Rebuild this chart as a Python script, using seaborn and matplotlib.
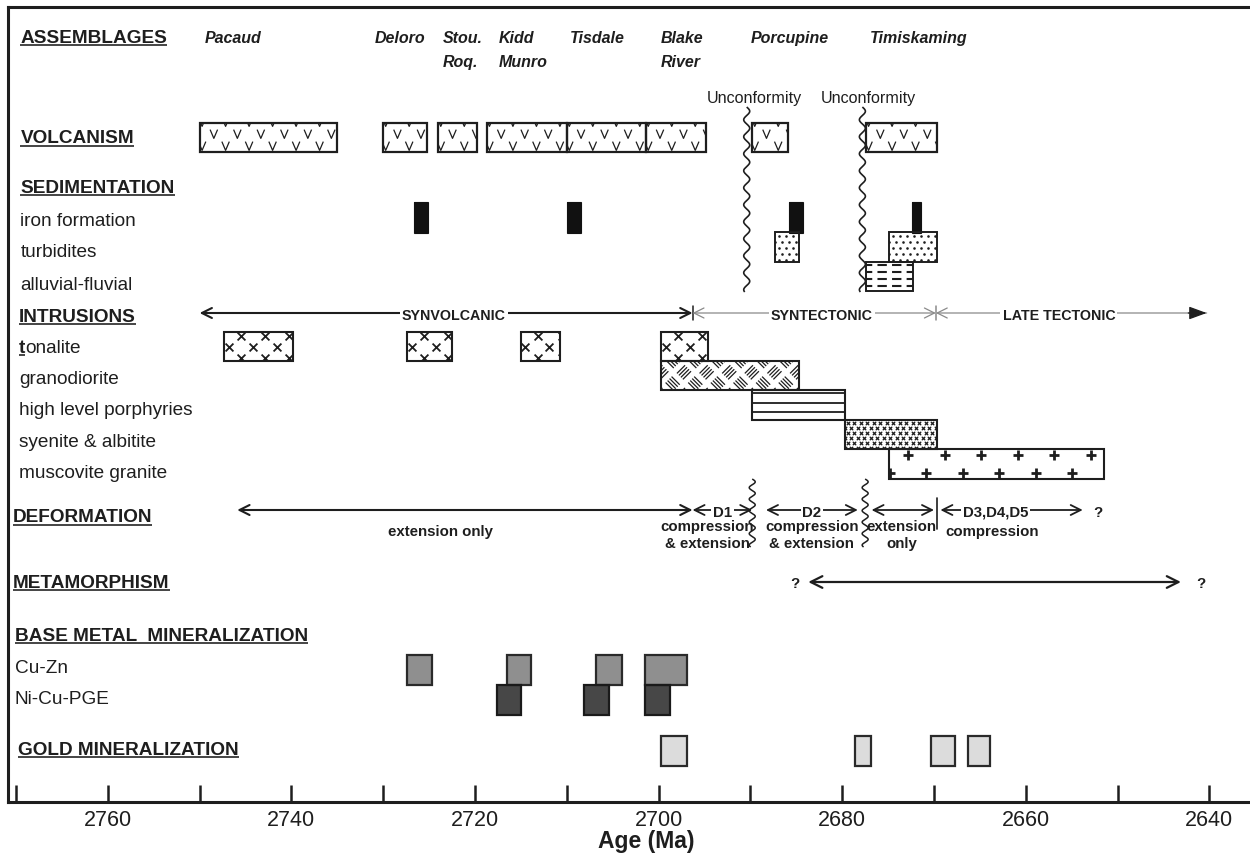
import numpy as np
import matplotlib
matplotlib.use("Agg")
import matplotlib.pyplot as plt
import matplotlib.transforms as mtransforms
from matplotlib.path import Path
from matplotlib.collections import LineCollection
import seaborn as sns

# ---------------------------------------------------------------- data
assemblage_line1 = ["Pacaud", "Deloro", "Stou.", "Kidd", "Tisdale", "Blake", "Porcupine", "Timiskaming"]
assemblage_line2 = ["", "", "Roq.", "Munro", "", "River", "", ""]
assemblage_label_age = [2749.4, 2730.9, 2723.5, 2717.4, 2709.7, 2699.8, 2690.0, 2677.0]

volc_start = [2750.0, 2730.0, 2724.0, 2718.7, 2710.0, 2701.4, 2689.8, 2677.4]
volc_end = [2735.0, 2725.2, 2719.8, 2710.0, 2701.4, 2694.8, 2685.9, 2669.7]

unconformity_age = [2690.4, 2677.8]
unconformity_label_age = [2689.6, 2677.2]
unconformity_text = ["Unconformity", "Unconformity"]

iron_start = [2726.6, 2710.0, 2685.8, 2672.4]
iron_end = [2725.1, 2708.5, 2684.3, 2671.4]
turb_start = [2687.3, 2674.9]
turb_end = [2684.7, 2669.7]
alluv_start = [2677.4]
alluv_end = [2672.3]

tonalite_start = [2747.3, 2727.4, 2715.0, 2699.7]
tonalite_end = [2739.8, 2722.5, 2710.7, 2694.6]
granodiorite_start = [2699.7]
granodiorite_end = [2684.7]
porphyry_start = [2689.8]
porphyry_end = [2679.7]
syenite_start = [2679.7]
syenite_end = [2669.7]
muscovite_start = [2674.9]
muscovite_end = [2651.5]

intrusion_periods = ["SYNVOLCANIC", "SYNTECTONIC", "LATE TECTONIC"]
intrusion_bounds = [2750.0, 2696.3, 2669.8, 2640.3]
intrusion_label_age = [2722.3, 2682.2, 2656.4]

deform_ext_early = [2745.9, 2696.3]
deform_d1 = [2696.3, 2689.8]
deform_d2 = [2688.3, 2678.3]
deform_ext_late = [2676.8, 2670.0]
deform_d345 = [2669.3, 2653.8]
deform_boundary = 2669.7
deform_wavy_age = [2689.8, 2677.5]
deform_texts = {
    "ext_early": ("extension only", 2723.8),
    "d1": ("D1", 2693.0),
    "d1_txt": ("compression", "& extension", 2694.7),
    "d2": ("D2", 2683.3),
    "d2_txt": ("compression", "& extension", 2683.3),
    "ext_late": ("extension", "only", 2673.5),
    "d345": ("D3,D4,D5", 2663.3),
    "d345_txt": ("compression", 2663.7),
    "q": ("?", 2652.2),
}

metamorphism = [2683.7, 2643.1]
metamorphism_q_age = [2685.2, 2640.9]

cuzn_start = [2727.4, 2716.5, 2706.8, 2701.5]
cuzn_end = [2724.7, 2713.9, 2704.0, 2696.9]
nicu_start = [2717.6, 2708.1, 2701.5]
nicu_end = [2715.0, 2705.4, 2698.8]
gold_start = [2699.7, 2678.6, 2670.3, 2666.3]
gold_end = [2696.9, 2676.9, 2667.7, 2663.9]

tick_values = list(range(2640, 2771, 10))
tick_labels = [str(t) if t % 20 == 0 else "" for t in tick_values]

row_labels = [
    ("ASSEMBLAGES", True), ("VOLCANISM", True), ("SEDIMENTATION", True),
    ("iron formation", False), ("turbidites", False), ("alluvial-fluvial", False),
    ("INTRUSIONS", True), ("tonalite", False), ("granodiorite", False),
    ("high level porphyries", False), ("syenite & albitite", False), ("muscovite granite", False),
    ("DEFORMATION", True), ("METAMORPHISM", True), ("BASE METAL  MINERALIZATION", True),
    ("Cu-Zn", False), ("Ni-Cu-PGE", False), ("GOLD MINERALIZATION", True),
]

# ---------------------------------------------------------------- layout / style
W, H = 1250, 854
AX_L, AX_R, AX_T, AX_B = 8, 1253, 8, 803
XLIM = (2770.87, 2635.25)
INK = "#1e1e1e"

# label x (px) and baseline (px row)
ROW_LABEL_POS = [
    (20.5, 42.7), (20.5, 143.3), (20.5, 193.0), (20.5, 225.7), (20.5, 256.7), (20.5, 290.0),
    (19.0, 321.7), (19.0, 352.7), (19.0, 384.0), (19.0, 415.0), (19.0, 446.7), (19.0, 478.3),
    (13.0, 522.3), (13.0, 587.7), (15.0, 640.7), (15.0, 672.7), (15.0, 704.0), (18.0, 755.0),
]
ROW_SPAN = dict(volcanism=(124, 153), iron=(203, 234), turb=(233, 263), alluv=(263, 292),
                tonalite=(333, 362), granodiorite=(362, 391), porphyry=(391, 421),
                syenite=(421, 450), muscovite=(450, 480),
                cuzn=(656, 686), nicu=(686, 716), gold=(737, 767))
Y_ASSEMB = (42.7, 66.7)
Y_UNCONF_TXT = 103.5
UNCONF_SPAN = (108, 293)
Y_INTR = 314
Y_INTR_TXT = 320.5
Y_DEF = 511
Y_DEF_LABEL = 516.7
Y_DEF_TXT = (531.0, 548.0)
Y_DEF_TXT_SINGLE = 536.0
DEF_WAVY_SPAN = (480, 548)
Y_META = 583

sns.set_theme(style="white")
plt.rcParams["font.family"] = ["Liberation Sans", "DejaVu Sans"]

fig = plt.figure(figsize=(W / 100, H / 100), dpi=100)
fig.patch.set_facecolor("white")
ax = fig.add_axes([AX_L / W, 1 - AX_B / H, (AX_R - AX_L) / W, (AX_B - AX_T) / H])
ax.set_facecolor("white")
ax.set_xlim(*XLIM)
ax.set_ylim(AX_B, AX_T)
ax.grid(False)

for side in ["left", "top", "bottom", "right"]:
    ax.spines[side].set_color(INK)
    ax.spines[side].set_linewidth(2.2)
ax.set_xticks(tick_values)
ax.set_xticklabels(tick_labels)
ax.tick_params(axis="x", bottom=True, direction="in", length=12.2, width=1.8,
               pad=5, labelsize=15.5, colors=INK)
ax.set_yticks([])
ax.set_xlabel("Age (Ma)", fontsize=16.5, fontweight="bold", color=INK)
ax.xaxis.set_label_coords((646 - AX_L) / (AX_R - AX_L), -(842 - AX_B) / (AX_B - AX_T))
ax.xaxis.label.set_va("center")

PXMA = abs(ax.transData.transform((2690, 0))[0] - ax.transData.transform((2700, 0))[0]) / 10.0
blend = mtransforms.blended_transform_factory(ax.transAxes, ax.transData)


def xfrac(px):
    return (px - AX_L) / (AX_R - AX_L)


# ---------------------------------------------------------------- helpers
def boxes(starts, ends, key, fc="white", ec=INK, lw=1.5):
    top, bot = ROW_SPAN[key]
    s = np.asarray(starts, float)
    e = np.asarray(ends, float)
    yc = np.full(len(s), (top + bot) / 2)
    cont = ax.barh(yc, e - s, left=s, height=bot - top, color=fc, edgecolor="none",
                   linewidth=0, zorder=2)
    ax.barh(yc, e - s, left=s, height=bot - top, fill=False, edgecolor=ec,
            linewidth=lw, zorder=5)
    return list(cont.patches)


def geom(bar):
    x0 = bar.get_x()
    w = bar.get_width()
    return max(x0, x0 + w), abs(w) * PXMA, bar.get_y(), bar.get_height()


def lattice(bar, dx, dy, oy, ox_even, ox_odd):
    left_age, wpx, top, h = geom(bar)
    xs, ys = [], []
    for j in range(-1, int(np.ceil(h / dy)) + 2):
        yy = top + oy + j * dy
        if yy < top - dy or yy > top + h + dy:
            continue
        ox = ox_even if j % 2 == 0 else ox_odd
        for i in range(-1, int(np.ceil(wpx / dx)) + 2):
            xp = ox + i * dx
            if -dx <= xp <= wpx + dx:
                xs.append(left_age - xp / PXMA)
                ys.append(yy)
    return np.array(xs), np.array(ys)


def clip_last(bar):
    ax.collections[-1].set_clip_path(bar)


def sns_markers(bar, xs, ys, marker, s, lw):
    sns.scatterplot(x=xs, y=ys, marker=marker, s=s, color=INK, linewidth=lw, ax=ax,
                    zorder=3, legend=False)
    clip_last(bar)


def darrow(a0, a1, y, color=INK, lw=1.3, style="<->", hl=0.6, hw=0.3, ms=12, z=6):
    ax.annotate("", xy=(a1, y), xytext=(a0, y),
                arrowprops=dict(arrowstyle=f"{style},head_length={hl},head_width={hw}",
                                color=color, lw=lw, shrinkA=0, shrinkB=0,
                                mutation_scale=ms), zorder=z)


def wavy(age, y0, y1, amp=3.0, lam=17.0, lw=1.2):
    yy = np.linspace(y0, y1, 300)
    xx = age - amp * np.sin(2 * np.pi * (yy - y0) / lam) / PXMA
    ax.plot(xx, yy, color=INK, lw=lw, zorder=6, solid_capstyle="butt")


# ---------------------------------------------------------------- row labels
underlined = []
tonalite_t = None
for (txt, bold), (px, yb) in zip(row_labels, ROW_LABEL_POS):
    if txt == "tonalite":
        tonalite_t = ax.text(xfrac(px), yb, "t", transform=blend, fontsize=13.7,
                             fontweight="bold", color=INK, va="baseline", ha="left")
        underlined.append((tonalite_t, yb))
        continue
    t = ax.text(xfrac(px), yb, txt, transform=blend, fontsize=13.7,
                fontweight="bold" if bold else "normal", color=INK, va="baseline", ha="left")
    if bold:
        underlined.append((t, yb))

# assemblage names
for a, l1, l2 in zip(assemblage_label_age, assemblage_line1, assemblage_line2):
    ax.text(a, Y_ASSEMB[0], l1, fontsize=11.5, fontweight="bold", fontstyle="italic",
            color=INK, ha="left", va="baseline")
    if l2:
        ax.text(a, Y_ASSEMB[1], l2, fontsize=11.5, fontweight="bold", fontstyle="italic",
                color=INK, ha="left", va="baseline")

# ---------------------------------------------------------------- volcanism
V_PATH = Path([(-0.85, 1), (0, -1), (0.85, 1)], [Path.MOVETO, Path.LINETO, Path.LINETO])
for bar in boxes(volc_start, volc_end, "volcanism", lw=1.6):
    xs, ys = lattice(bar, 23.5, 12.0, -1.0, 2.5, 14.25)
    coll = ax.scatter(xs, ys, marker=V_PATH, s=40, facecolors="none", edgecolors=INK,
                      linewidths=0.9, zorder=3)
    coll.set_clip_path(bar)

# unconformities
for a, la, txt in zip(unconformity_age, unconformity_label_age, unconformity_text):
    wavy(a, UNCONF_SPAN[0], UNCONF_SPAN[1], amp=3.0, lam=17.0)
    ax.text(la, Y_UNCONF_TXT, txt, fontsize=11.6, color=INK, ha="center", va="baseline")

# ---------------------------------------------------------------- sedimentation
boxes(iron_start, iron_end, "iron", fc="#111111", ec="#111111", lw=0.8)
for bar in boxes(turb_start, turb_end, "turb", lw=1.4):
    xs, ys = lattice(bar, 7.0, 6.0, 4.0, 3.5, 7.0)
    sns_markers(bar, xs, ys, "o", 3.5, 0)
for bar in boxes(alluv_start, alluv_end, "alluv", lw=1.4):
    left_age, wpx, top, h = geom(bar)
    for off in (2.5, 9.5, 16.5, 23.5):
        ln, = ax.plot([left_age, left_age - wpx / PXMA], [top + off, top + off],
                      color=INK, lw=1.5, linestyle=(1.5, (4.5, 2.5)), zorder=3)
        ln.set_clip_path(bar)

# ---------------------------------------------------------------- intrusions
for bar in boxes(tonalite_start, tonalite_end, "tonalite", lw=1.5):
    xs, ys = lattice(bar, 24.0, 11.0, 4.0, 17.0, 4.5)
    sns_markers(bar, xs, ys, "x", 32, 1.3)

# granodiorite: basket weave rotated by 45 degrees
for bar in boxes(granodiorite_start, granodiorite_end, "granodiorite", lw=1.5):
    left_age, wpx, top, h = geom(bar)
    c = 16.0
    r2 = np.sqrt(2.0)
    segs = []
    span = (wpx + h) / r2
    nmax = int(np.ceil(span / c)) + 2
    for m in range(-2, nmax):
        for n in range(-nmax, nmax):
            cu, cv = (m + 0.5) * c, (n + 0.5) * c
            cx, cy = (cu + cv) / r2, (cu - cv) / r2
            if cx < -c or cx > wpx + c or cy < -c or cy > h + c:
                continue
            for k in (-1.5, -0.5, 0.5, 1.5):
                if (m + n) % 2 == 0:
                    u0, v0, u1, v1 = cu - 0.36 * c, cv + k * 2.8, cu + 0.36 * c, cv + k * 2.8
                else:
                    u0, v0, u1, v1 = cu + k * 2.8, cv - 0.36 * c, cu + k * 2.8, cv + 0.36 * c
                x0, y0 = (u0 + v0) / r2, (u0 - v0) / r2
                x1, y1 = (u1 + v1) / r2, (u1 - v1) / r2
                segs.append([(left_age - x0 / PXMA, top + y0), (left_age - x1 / PXMA, top + y1)])
    lc = LineCollection(segs, colors=INK, linewidths=0.9, zorder=3)
    ax.add_collection(lc)
    lc.set_clip_path(bar)

for bar in boxes(porphyry_start, porphyry_end, "porphyry", lw=1.5):
    left_age, wpx, top, h = geom(bar)
    for off in (3.0, 13.0, 22.3):
        ln, = ax.plot([left_age, left_age - wpx / PXMA], [top + off, top + off],
                      color=INK, lw=1.3, zorder=3)
        ln.set_clip_path(bar)

for bar in boxes(syenite_start, syenite_end, "syenite", lw=1.5):
    xs, ys = lattice(bar, 6.5, 5.0, 2.5, 3.0, 6.25)
    sns_markers(bar, xs, ys, "x", 6, 0.9)

for bar in boxes(muscovite_start, muscovite_end, "muscovite", lw=1.5):
    xs, ys = lattice(bar, 36.5, 17.5, 6.0, 19.0, 0.8)
    sns_markers(bar, xs, ys, "+", 55, 2.0)

# intrusion period arrows
GRAY = "#8a8a8a"
darrow(intrusion_bounds[0], intrusion_bounds[1], Y_INTR, color=INK, lw=1.5)
ax.plot([intrusion_bounds[1]] * 2, [Y_INTR - 7, Y_INTR + 7], color=INK, lw=1.1, zorder=6)
darrow(intrusion_bounds[1], intrusion_bounds[2], Y_INTR, color=GRAY, lw=0.9)
ax.plot([intrusion_bounds[2]] * 2, [Y_INTR - 7, Y_INTR + 7], color=GRAY, lw=1.1, zorder=6)
darrow(intrusion_bounds[2], intrusion_bounds[3], Y_INTR, color=GRAY, lw=0.9, style="<-")
darrow(intrusion_bounds[3] + 2.0, intrusion_bounds[3], Y_INTR, color=INK, lw=0.9,
       style="-|>", hl=0.9, hw=0.33)
for lab, a in zip(intrusion_periods, intrusion_label_age):
    ax.text(a, Y_INTR_TXT, lab, fontsize=10.3, fontweight="bold", color=INK, ha="center",
            va="baseline", zorder=7,
            bbox=dict(fc="white", ec="none", boxstyle="square,pad=0.15"))

# ---------------------------------------------------------------- deformation
darrow(deform_ext_early[0], deform_ext_early[1], Y_DEF, lw=1.5)
darrow(deform_d1[0], deform_d1[1], Y_DEF, lw=1.3)
darrow(deform_d2[0], deform_d2[1], Y_DEF, lw=1.3)
darrow(deform_ext_late[0], deform_ext_late[1], Y_DEF, lw=1.3)
darrow(deform_d345[0], deform_d345[1], Y_DEF, lw=1.3)
ax.plot([deform_boundary] * 2, [499, 530], color=INK, lw=1.2, zorder=6)
for a in deform_wavy_age:
    wavy(a, DEF_WAVY_SPAN[0], DEF_WAVY_SPAN[1], amp=3.0, lam=11.5, lw=1.1)

DEF_FS = 10.8
boxed = dict(fc="white", ec="none", boxstyle="square,pad=0.12")
ax.text(deform_texts["d1"][1], Y_DEF_LABEL, deform_texts["d1"][0], fontsize=DEF_FS,
        fontweight="bold", color=INK, ha="center", va="baseline", zorder=7, bbox=boxed)
ax.text(deform_texts["d2"][1], Y_DEF_LABEL, deform_texts["d2"][0], fontsize=DEF_FS,
        fontweight="bold", color=INK, ha="center", va="baseline", zorder=7, bbox=boxed)
ax.text(deform_texts["d345"][1], Y_DEF_LABEL, deform_texts["d345"][0], fontsize=DEF_FS,
        fontweight="bold", color=INK, ha="center", va="baseline", zorder=7, bbox=boxed)
ax.text(deform_texts["q"][1], Y_DEF_LABEL, deform_texts["q"][0], fontsize=DEF_FS,
        fontweight="bold", color=INK, ha="center", va="baseline")
ax.text(deform_texts["ext_early"][1], Y_DEF_TXT_SINGLE, deform_texts["ext_early"][0],
        fontsize=DEF_FS, fontweight="bold", color=INK, ha="center", va="baseline")
ax.text(deform_texts["d345_txt"][1], Y_DEF_TXT_SINGLE, deform_texts["d345_txt"][0],
        fontsize=DEF_FS, fontweight="bold", color=INK, ha="center", va="baseline")
for key in ("d1_txt", "d2_txt", "ext_late"):
    l1, l2, a = deform_texts[key]
    ax.text(a, Y_DEF_TXT[0], l1, fontsize=DEF_FS, fontweight="bold", color=INK,
            ha="center", va="baseline", zorder=7)
    ax.text(a, Y_DEF_TXT[1], l2, fontsize=DEF_FS, fontweight="bold", color=INK,
            ha="center", va="baseline", zorder=7)

# ---------------------------------------------------------------- metamorphism
darrow(metamorphism[0], metamorphism[1], Y_META, lw=1.6, hl=0.7, hw=0.35)
for a in metamorphism_q_age:
    ax.text(a, Y_META + 5, "?", fontsize=DEF_FS, fontweight="bold", color=INK,
            ha="center", va="baseline")

# ---------------------------------------------------------------- mineralization
boxes(cuzn_start, cuzn_end, "cuzn", fc="#8f8f8f", ec="#2a2a2a", lw=1.6)
boxes(nicu_start, nicu_end, "nicu", fc="#474747", ec="#1a1a1a", lw=1.6)
boxes(gold_start, gold_end, "gold", fc="#dcdcdc", ec="#2a2a2a", lw=1.6)

# ---------------------------------------------------------------- underlines / tonalite
fig.canvas.draw()
renderer = fig.canvas.get_renderer()
inv = ax.transData.inverted()
bb = tonalite_t.get_window_extent(renderer)
x_after = inv.transform((bb.x1, 0))[0]
ax.text(x_after, ROW_LABEL_POS[7][1], "onalite", fontsize=13.7, color=INK,
        ha="left", va="baseline")
for t, yb in underlined:
    bb = t.get_window_extent(renderer)
    x0 = inv.transform((bb.x0, 0))[0]
    x1 = inv.transform((bb.x1, 0))[0]
    ax.plot([x0, x1], [yb + 3.2, yb + 3.2], color="#444444", lw=1.4, zorder=6,
            solid_capstyle="butt")

fig.savefig("out.png", dpi=100)
